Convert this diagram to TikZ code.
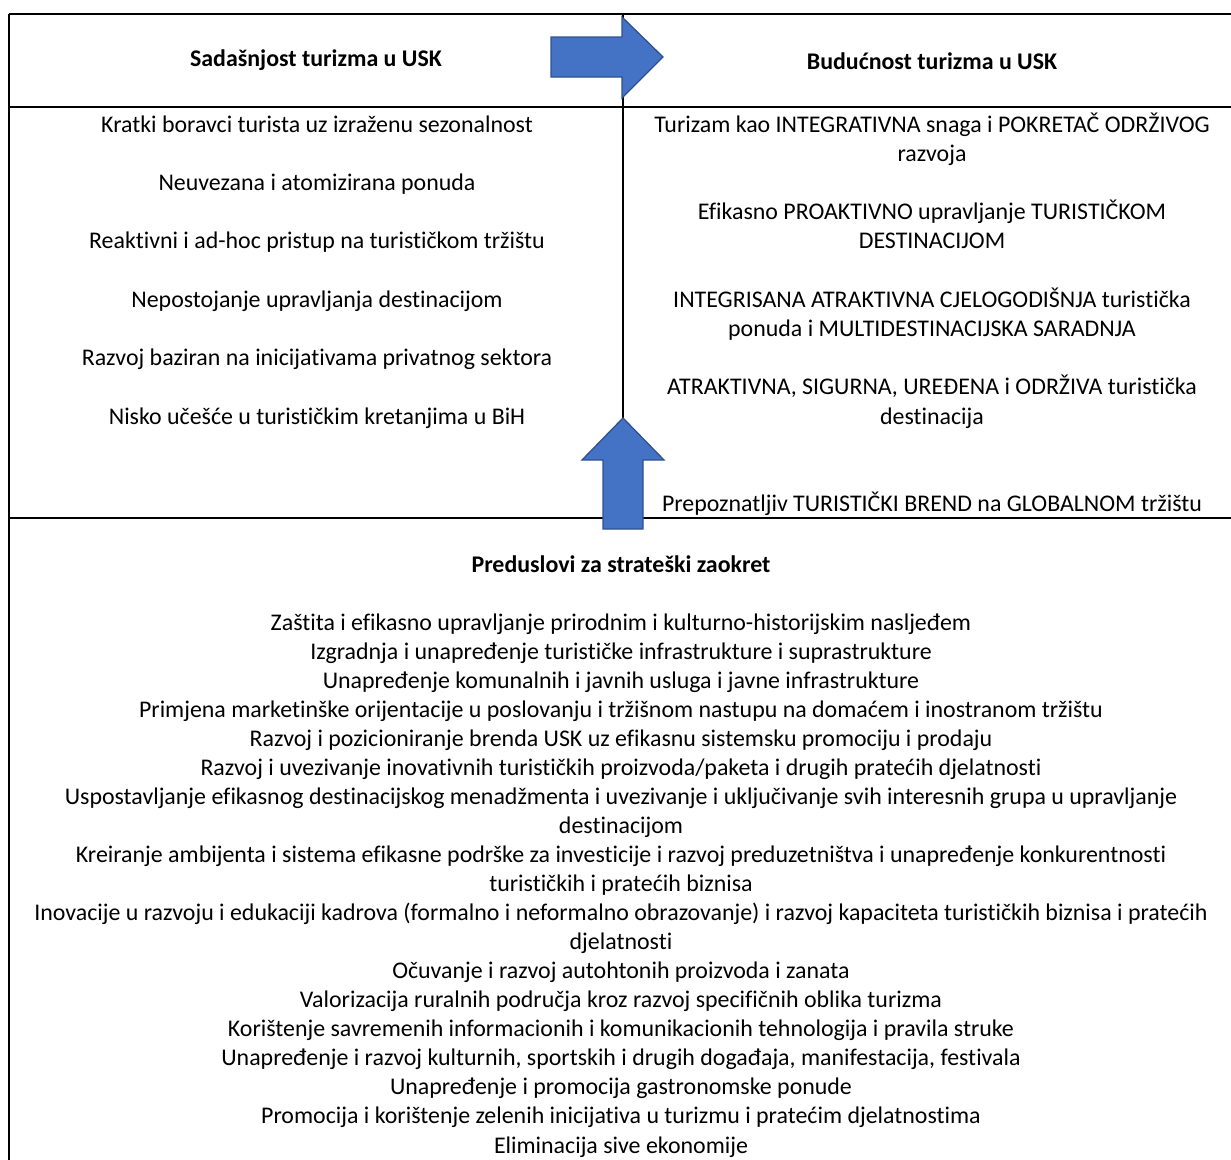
\documentclass[tikz,border=0pt]{standalone}
\usepackage{fontspec}
\setmainfont{Carlito}[Ligatures={NoCommon}]
\begin{document}
\begin{tikzpicture}[x=1pt,y=-1pt,
  every node/.style={inner sep=0pt, outer sep=0pt, font=\fontsize{23.9}{29.1}\selectfont, text height=0.7em, text depth=0.2em},
  hdr/.style={font=\fontsize{23.9}{29.1}\selectfont\bfseries},
  rule/.style={line width=1.6pt, black},
  bigarrow/.style={fill=arrowfill, draw=arrowedge, line width=1.3pt, line join=miter}]
\definecolor{arrowfill}{HTML}{4472C4}
\definecolor{arrowedge}{HTML}{2F528F}
\useasboundingbox (0,0) rectangle (1231,1159);
% table rules
\coordinate (tl) at (9,14);
\coordinate (tr) at (1235,14);
\coordinate (hl) at (9,107);
\coordinate (hr) at (1235,107);
\coordinate (ml) at (9,518);
\coordinate (mr) at (1235,518);
\coordinate (bl) at (9,1165);
\coordinate (dt) at (623,14);
\coordinate (db) at (623,518);
\draw[rule] (tl) -- (tr);
\draw[rule] (hl) -- (hr);
\draw[rule] (ml) -- (mr);
\draw[rule] (tl) -- (bl);
\draw[rule] (dt) -- (db);
% arrows
\draw[bigarrow] (551,37) -- (622,37) -- (622,17) -- (663,57) -- (622,98) -- (622,77) -- (551,77) -- cycle;
\draw[bigarrow] (623,418) -- (664,460) -- (643,460) -- (643,529) -- (603,529) -- (603,460) -- (582,460) -- cycle;
\begin{scope}[every node/.append style={yshift=-4.5pt}]
% headers
\node[hdr] (h1) at (316,59) {Sadašnjost turizma u USK};
\node[hdr] (h2) at (932,62) {Budućnost turizma u USK};
\node[hdr] (h3) at (621,565) {Preduslovi za strateški zaokret};
% left column
\node (l1) at (317,125) {Kratki boravci turista uz izraženu sezonalnost};
\node (l2) at (317,183.4) {Neuvezana i atomizirana ponuda};
\node (l3) at (317,241.8) {Reaktivni i ad-hoc pristup na turističkom tržištu};
\node (l4) at (317,300.2) {Nepostojanje upravljanja destinacijom};
\node (l5) at (317,358.6) {Razvoj baziran na inicijativama privatnog sektora};
\node (l6) at (317,417) {Nisko učešće u turističkim kretanjima u BiH};
% right column
\node (r1a) at (932,125) {Turizam kao INTEGRATIVNA snaga i POKRETAČ ODRŽIVOG};
\node (r1b) at (932,154.2) {razvoja};
\node (r2a) at (932,212.6) {Efikasno PROAKTIVNO upravljanje TURISTIČKOM};
\node (r2b) at (932,241.8) {DESTINACIJOM};
\node (r3a) at (932,300.2) {INTEGRISANA ATRAKTIVNA CJELOGODIŠNJA turistička};
\node (r3b) at (932,329.4) {ponuda i MULTIDESTINACIJSKA SARADNJA};
\node (r4a) at (932,387.8) {ATRAKTIVNA, SIGURNA, UREĐENA i ODRŽIVA turistička};
\node (r4b) at (932,417) {destinacija};
\node (r5) at (932,504.6) {Prepoznatljiv TURISTIČKI BREND na GLOBALNOM tržištu};
% bottom list
\node (b2) at (621,623.1) {Zaštita i efikasno upravljanje prirodnim i kulturno-historijskim nasljeđem};
\node (b3) at (621,652.15) {Izgradnja i unapređenje turističke infrastrukture i suprastrukture};
\node (b4) at (621,681.2) {Unapređenje komunalnih i javnih usluga i javne infrastrukture};
\node (b5) at (621,710.25) {Primjena marketinške orijentacije u poslovanju i tržišnom nastupu na domaćem i inostranom tržištu};
\node (b6) at (621,739.3) {Razvoj i pozicioniranje brenda USK uz efikasnu sistemsku promociju i prodaju};
\node (b7) at (621,768.35) {Razvoj i uvezivanje inovativnih turističkih proizvoda/paketa i drugih pratećih djelatnosti};
\node (b8) at (621,797.4) {Uspostavljanje efikasnog destinacijskog menadžmenta i uvezivanje i uključivanje svih interesnih grupa u upravljanje};
\node (b9) at (621,826.45) {destinacijom};
\node (b10) at (621,855.5) {Kreiranje ambijenta i sistema efikasne podrške za investicije i razvoj preduzetništva i unapređenje konkurentnosti};
\node (b11) at (621,884.55) {turističkih i pratećih biznisa};
\node (b12) at (621,913.6) {Inovacije u razvoju i edukaciji kadrova (formalno i neformalno obrazovanje) i razvoj kapaciteta turističkih biznisa i pratećih};
\node (b13) at (621,942.65) {djelatnosti};
\node (b14) at (621,971.7) {Očuvanje i razvoj autohtonih proizvoda i zanata};
\node (b15) at (621,1000.75) {Valorizacija ruralnih područja kroz razvoj specifičnih oblika turizma};
\node (b16) at (621,1029.8) {Korištenje savremenih informacionih i komunikacionih tehnologija i pravila struke};
\node (b17) at (621,1058.85) {Unapređenje i razvoj kulturnih, sportskih i drugih događaja, manifestacija, festivala};
\node (b18) at (621,1087.9) {Unapređenje i promocija gastronomske ponude};
\node (b19) at (621,1116.95) {Promocija i korištenje zelenih inicijativa u turizmu i pratećim djelatnostima};
\node (b20) at (621,1146) {Eliminacija sive ekonomije};
\end{scope}
\end{tikzpicture}
\end{document}
